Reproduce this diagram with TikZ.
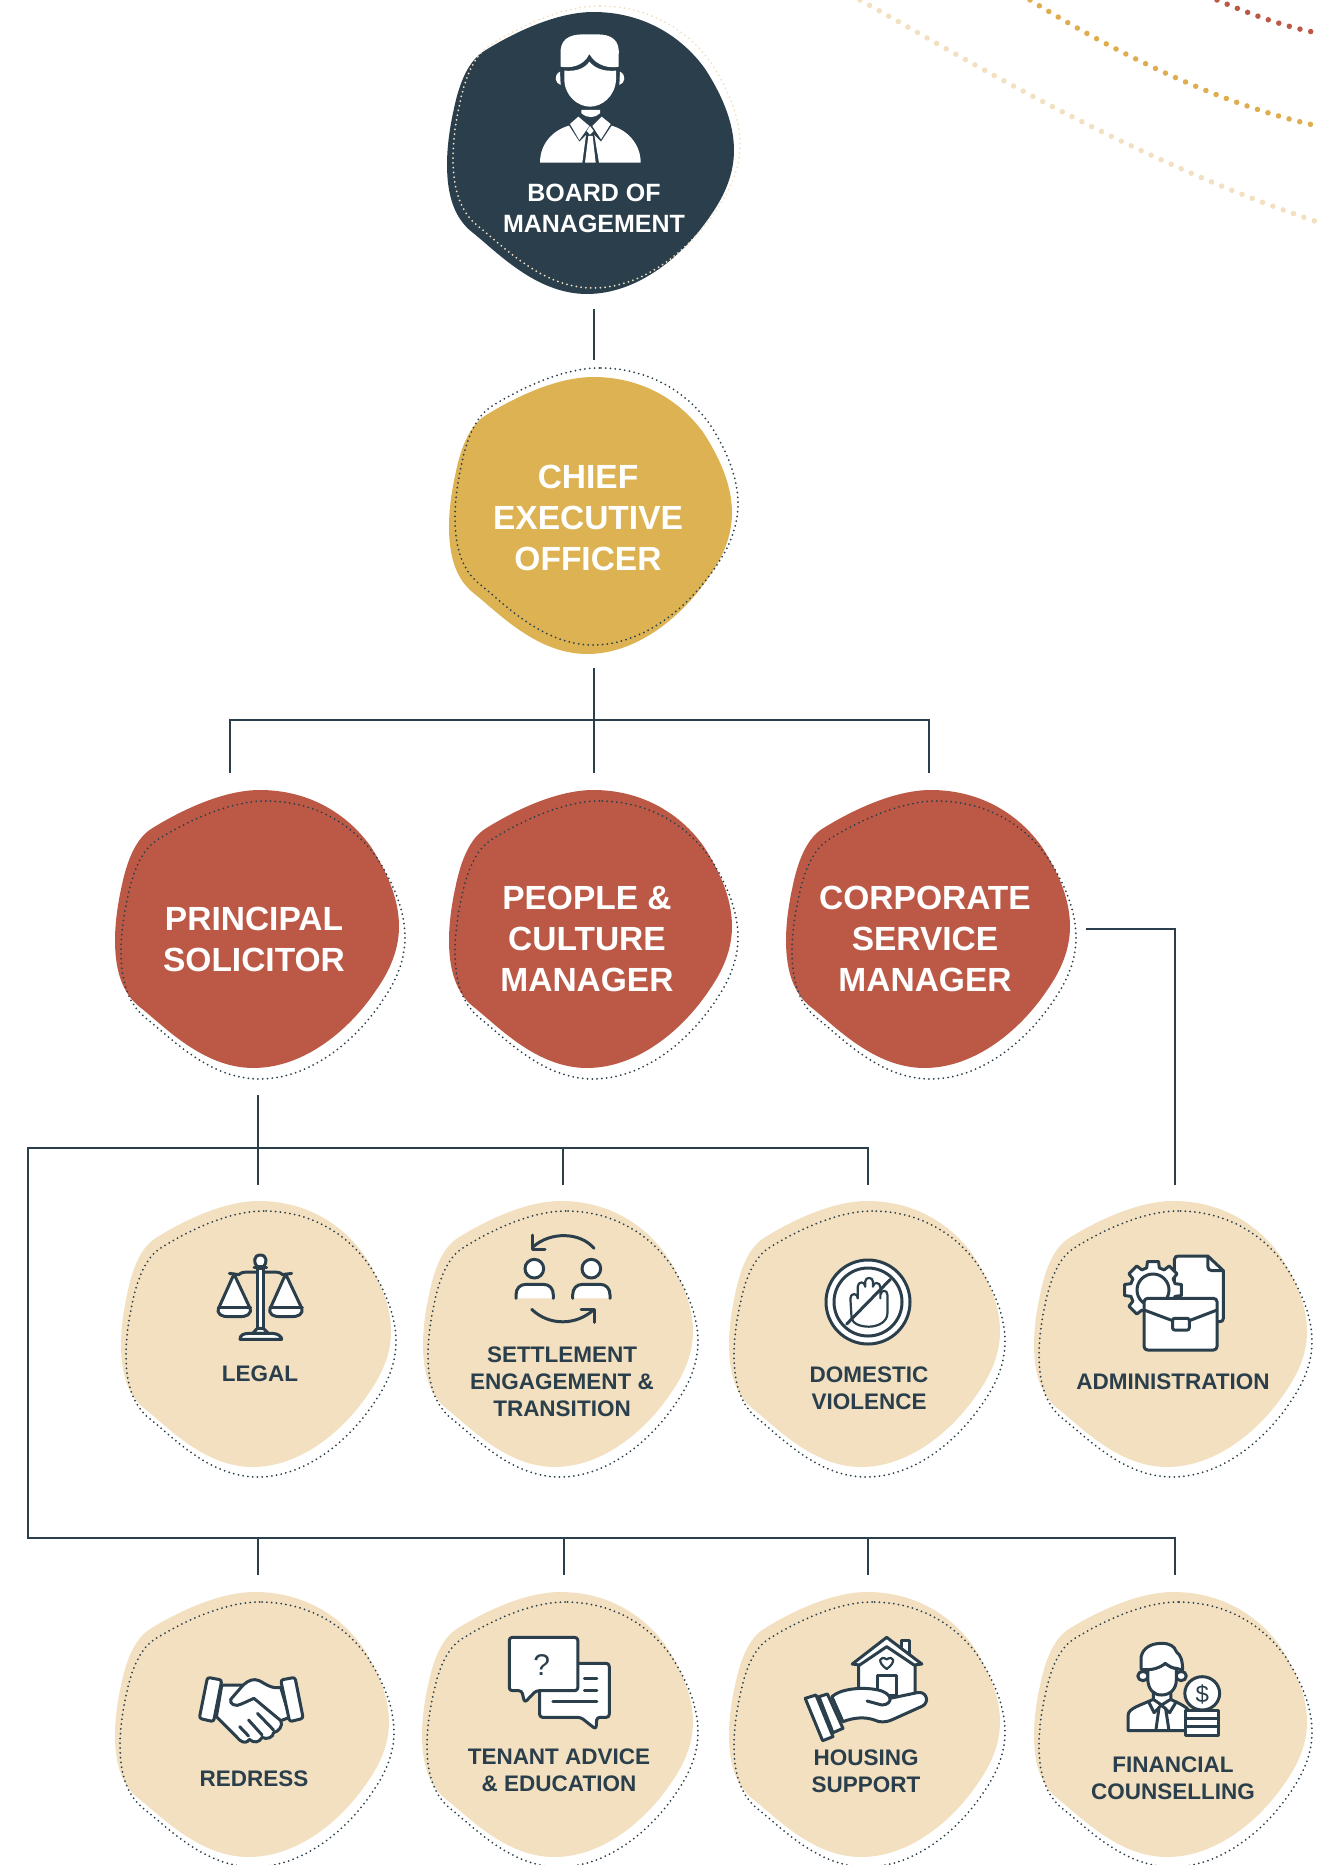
\documentclass[tikz,border=0pt]{standalone}
\usepackage{fontspec}
\setmainfont{Liberation Sans}
\definecolor{ink}{HTML}{2A3F4B}
\definecolor{gold}{HTML}{DDB253}
\definecolor{brick}{HTML}{BC5946}
\definecolor{sand}{HTML}{F2E0C0}
\definecolor{midgold}{HTML}{DFAD4D}
\def\blobpath{(423,5) .. controls (320,5) and (200,62) .. (115,115) .. controls (72,142) and (45,200) .. (28,285) .. controls (18,330) and (10,385) .. (10,435) .. controls (10,520) and (30,585) .. (80,625) .. controls (150,680) and (260,800) .. (405,800) .. controls (550,800) and (680,690) .. (755,577) .. controls (795,520) and (820,460) .. (820,395) .. controls (820,310) and (780,230) .. (739,166) .. controls (670,70) and (560,5) .. (423,5) -- cycle}
% x y w h fill dx dy dotcolour
\newcommand\Blob[8]{%
  \begin{scope}[shift={(#1,#2)},xscale=#3/810,yscale=#4/795,shift={(-10,-5)}]
    \path[fill=#5] \blobpath;
  \end{scope}
  \begin{scope}[shift={(#1+#6,#2+#7)},xscale=#3/810,yscale=#4/795,shift={(-10,-5)}]
    \draw[#8,line width=2pt,line cap=round,dash pattern=on 0pt off 4.8pt] \blobpath;
  \end{scope}}
\tikzset{
  lab/.style={font=\fontsize{22.5}{27}\selectfont\bfseries,text=ink,align=center,inner sep=0pt},
  biglab/.style={font=\fontsize{33.5}{41}\selectfont\bfseries,text=white,align=center,inner sep=0pt},
  boardlab/.style={font=\fontsize{25}{31}\selectfont\bfseries,text=white,align=center,inner sep=0pt},
  conn/.style={draw=ink,line width=2pt},
  icon/.style={draw=ink,fill=white,line width=3pt,line join=round,line cap=round},
  stroke/.style={draw=ink,line width=3pt,line join=round,line cap=round},
  arcdots/.style={line width=5.5pt,line cap=round,dash pattern=on 0pt off 11pt}
}
\begin{document}
\begin{tikzpicture}[x=1pt,y=-1pt]
\useasboundingbox (0,0) rectangle (1318,1865);
% decorative arcs
\draw[arcdots,sand] (860,0) .. controls (950,50) and (1130,160) .. (1318,222);
\draw[arcdots,midgold] (1030,0) .. controls (1110,50) and (1220,105) .. (1318,126);
\draw[arcdots,brick] (1217,0) .. controls (1250,14) and (1285,27) .. (1318,33);
% connector anchors
\coordinate (bA) at (594,309);\coordinate (bB) at (594,360);
\coordinate (cA) at (594,668);\coordinate (cJ) at (594,720);\coordinate (cB) at (594,773);
\coordinate (lJ) at (230,720);\coordinate (lE) at (230,773);
\coordinate (rJ) at (929,720);\coordinate (rE) at (929,773);
\coordinate (pA) at (258,1095);\coordinate (pJ) at (258,1147.5);\coordinate (pB) at (258,1185);
\coordinate (hL) at (28,1147.5);\coordinate (hM) at (563,1147.5);\coordinate (hME) at (563,1185);
\coordinate (hR) at (868,1147.5);\coordinate (hRE) at (868,1185);
\coordinate (vB) at (28,1537.5);
\coordinate (d1) at (258,1537.5);\coordinate (d1E) at (258,1575);
\coordinate (d2) at (564,1537.5);\coordinate (d2E) at (564,1575);
\coordinate (d3) at (868,1537.5);\coordinate (d3E) at (868,1575);
\coordinate (d4) at (1174.5,1537.5);\coordinate (d4E) at (1174.5,1575);
\coordinate (sA) at (1086,929);\coordinate (sJ) at (1174.5,929);\coordinate (sB) at (1174.5,1185);
\draw[conn] (bA) -- (bB);
\draw[conn] (cA) -- (cB);
\draw[conn] (lE) -- (lJ) -- (rJ) -- (rE);
\draw[conn] (pA) -- (pB);
\draw[conn] (hRE) -- (hR) -- (hL) -- (vB) -- (d4) -- (d4E);
\draw[conn] (hM) -- (hME);
\draw[conn] (d1) -- (d1E);
\draw[conn] (d2) -- (d2E);
\draw[conn] (d3) -- (d3E);
\draw[conn] (sA) -- (sJ) -- (sB);
% blobs
\Blob{447}{12}{287}{282}{ink}{6}{-6}{sand}
\Blob{449}{377}{283}{277}{gold}{6}{-9}{ink}
\Blob{115}{790}{284}{278}{brick}{6}{11}{ink}
\Blob{449}{790}{283}{278}{brick}{6}{11}{ink}
\Blob{786}{790}{284}{278}{brick}{6}{11}{ink}
\Blob{121}{1201}{270}{266}{sand}{5}{10}{ink}
\Blob{423}{1201}{270}{266}{sand}{5}{10}{ink}
\Blob{729}{1201}{271}{266}{sand}{5}{10}{ink}
\Blob{1034}{1201}{273}{266}{sand}{5}{10}{ink}
\Blob{115}{1592}{274}{265}{sand}{5}{10}{ink}
\Blob{422}{1592}{271}{265}{sand}{5}{10}{ink}
\Blob{729}{1592}{271}{265}{sand}{5}{10}{ink}
\Blob{1034}{1592}{273}{265}{sand}{5}{10}{ink}
% labels
\node[boardlab] (board) at (594,208) {BOARD OF\\MANAGEMENT};
\node[biglab] (ceo) at (588,518) {CHIEF\\EXECUTIVE\\OFFICER};
\node[biglab] (ps) at (254,939) {PRINCIPAL\\SOLICITOR};
\node[biglab] (pc) at (587,939) {PEOPLE \&\\CULTURE\\MANAGER};
\node[biglab] (cs) at (925,939) {CORPORATE\\SERVICE\\MANAGER};
\node[lab] (legal) at (260,1374) {LEGAL};
\node[lab] (settle) at (562,1382) {SETTLEMENT\\ENGAGEMENT \&\\TRANSITION};
\node[lab] (dv) at (869,1388) {DOMESTIC\\VIOLENCE};
\node[lab] (admin) at (1173,1382) {ADMINISTRATION};
\node[lab] (redress) at (254,1779) {REDRESS};
\node[lab] (tenant) at (559,1770) {TENANT ADVICE\\\& EDUCATION};
\node[lab] (housing) at (866,1771) {HOUSING\\SUPPORT};
\node[lab] (fin) at (1173,1778) {FINANCIAL\\COUNSELLING};
% board icon
\begin{scope}[shift={(420,0)},x=1pt/3,y=-1pt/3]
\fill[white] (422,200) -- (422,165) .. controls (418,120) and (445,103) .. (490,103) -- (530,103) .. controls (575,103) and (600,120) .. (596,165) -- (596,200) .. controls (570,205) and (530,200) .. (508,162) .. controls (490,200) and (450,205) .. (422,200) -- cycle;
\fill[white] (433,212) .. controls (470,215) and (495,205) .. (508,185) .. controls (525,205) and (550,215) .. (588,212) -- (588,240) .. controls (585,290) and (545,320) .. (510,320) .. controls (475,320) and (435,290) .. (433,240) -- cycle;
\fill[white] (420,215) .. controls (400,225) and (405,250) .. (422,255) -- cycle;
\fill[white] (600,215) .. controls (620,225) and (615,250) .. (598,255) -- cycle;
\fill[white] (484,330) -- (540,330) -- (540,340) .. controls (525,355) and (500,355) .. (484,340) -- cycle;
\fill[white] (475,350) -- (508,378) -- (478,420) -- (450,372) -- cycle;
\fill[white] (545,350) -- (572,372) -- (543,418) -- (517,378) -- cycle;
\fill[white] (360,488) .. controls (360,430) and (400,390) .. (447,377) -- (478,425) -- (498,405) -- (487,488) -- cycle;
\fill[white] (662,488) .. controls (662,430) and (620,390) .. (575,377) -- (543,425) -- (523,405) -- (537,488) -- cycle;
\fill[white] (495,488) -- (505,408) -- (518,408) -- (527,488) -- cycle;
\fill[white] (510,378) -- (500,393) -- (510,404) -- (521,393) -- cycle;
\end{scope}
% legal icon
\begin{scope}[shift={(100,1200)},x=1pt/3,y=-1pt/3]
\filldraw[icon] (358,320) -- (402,222) -- (448,320) .. controls (460,345) and (435,350) .. (420,350) -- (385,350) .. controls (370,350) and (345,345) .. (358,320) -- cycle;
\draw[stroke] (355,322) -- (452,322);
\filldraw[icon] (513,320) -- (557,222) -- (603,320) .. controls (615,345) and (590,350) .. (575,350) -- (540,350) .. controls (525,350) and (500,345) .. (513,320) -- cycle;
\draw[stroke] (510,322) -- (607,322);
\draw[stroke] (388,220) -- (416,224) .. controls (425,216) and (435,216) .. (445,216) -- (520,216) .. controls (530,216) and (540,216) .. (548,224) -- (575,220);
\filldraw[icon] (472,205) rectangle (490,385);
\filldraw[icon] (481,165) .. controls (460,165) and (460,190) .. (472,200) -- (490,200) .. controls (502,190) and (502,165) .. (481,165) -- cycle;
\draw[stroke] (462,202) -- (500,202);
\filldraw[icon] (458,400) -- (472,385) -- (490,385) -- (505,400) -- cycle;
\filldraw[icon] (420,418) .. controls (420,405) and (430,400) .. (450,400) -- (515,400) .. controls (535,400) and (545,410) .. (545,418) -- cycle;
\end{scope}
% settlement icon
\begin{scope}[shift={(420,1200)},x=1pt/3,y=-1pt/3]
\draw[stroke] (522,145) .. controls (480,95) and (390,95) .. (340,140);
\draw[stroke] (337,105) -- (337,147) -- (375,147);
\draw[stroke] (335,328) .. controls (390,380) and (470,375) .. (520,330);
\draw[stroke] (483,328) -- (522,328) -- (522,367);
\filldraw[icon] (343,206) circle[radius=28];
\filldraw[icon] (514,206) circle[radius=28];
\path[fill=white] (288,295) -- (288,285) .. controls (288,265) and (300,253) .. (318,253) -- (370,253) .. controls (388,253) and (400,265) .. (400,285) -- (400,295) -- cycle;
\draw[stroke] (288,295) -- (288,285) .. controls (288,265) and (300,253) .. (318,253) -- (370,253) .. controls (388,253) and (400,265) .. (400,285) -- (400,295);
\path[fill=white] (458,295) -- (458,285) .. controls (458,265) and (470,253) .. (488,253) -- (540,253) .. controls (558,253) and (570,265) .. (570,285) -- (570,295) -- cycle;
\draw[stroke] (458,295) -- (458,285) .. controls (458,265) and (470,253) .. (488,253) -- (540,253) .. controls (558,253) and (570,265) .. (570,285) -- (570,295);
\end{scope}
% domestic violence icon
\filldraw[icon] (868,1302) circle[radius=42];
\draw[stroke] (868,1302) circle[radius=34];
\begin{scope}[shift={(730,1200)},x=1pt/2.7,y=-1pt/3]
\filldraw[icon,line width=2.2pt] (328,350) -- (325,295) .. controls (325,278) and (345,278) .. (345,295) -- (345,260) .. controls (345,243) and (365,243) .. (365,260) -- (365,245) .. controls (365,230) and (386,230) .. (386,245) -- (386,260) .. controls (386,245) and (406,245) .. (406,262) -- (406,295) -- (406,285) .. controls (408,268) and (425,268) .. (425,285) -- (425,340) .. controls (425,365) and (400,380) .. (375,380) .. controls (350,380) and (328,370) .. (328,350) -- cycle;
\draw[stroke] (315,372) -- (433,238);
\end{scope}
% administration icon
\begin{scope}[shift={(730,1200)},x=1pt/2.7,y=-1pt/3]
\filldraw[icon] (1200,178) .. controls (1200,170) and (1205,168) .. (1212,168) -- (1290,168) -- (1332,212) -- (1332,355) .. controls (1332,362) and (1328,365) .. (1322,365) -- (1200,365) -- cycle;
\draw[stroke] (1290,170) -- (1290,200) .. controls (1290,208) and (1295,212) .. (1302,212) -- (1330,212);
\end{scope}
\begin{scope}[shift={(1153,1290)}]
\filldraw[icon] (-11:29) \foreach \a in {0,45,...,315}{ -- (\a-11:29) -- (\a+11:29) -- (\a+16:23) -- (\a+29:23)} -- cycle;
\filldraw[icon] (0,0) circle[radius=16];
\end{scope}
\begin{scope}[shift={(730,1200)},x=1pt/2.7,y=-1pt/3]
\filldraw[icon,rounded corners=3.5pt] (1118,295) rectangle (1315,450);
\draw[stroke] (1118,330) -- (1195,362);
\draw[stroke] (1315,330) -- (1240,362);
\filldraw[icon,rounded corners=2pt] (1195,355) rectangle (1240,390);
\end{scope}
% redress icon
\begin{scope}[shift={(120,1600)},x=1pt/2.8,y=-1pt/3]
\filldraw[icon] (270,350) -- (335,420) .. controls (345,430) and (358,428) .. (362,418) .. controls (375,430) and (390,428) .. (398,412) .. controls (410,420) and (430,412) .. (430,398) .. controls (445,395) and (458,375) .. (450,362) -- (475,352) -- (450,262) .. controls (425,268) and (405,250) .. (390,242) .. controls (375,235) and (360,240) .. (345,255) -- (285,255) -- cycle;
\draw[stroke] (345,255) -- (310,298) .. controls (305,312) and (325,322) .. (340,312) -- (375,295) -- (448,360);
\draw[stroke] (335,380) -- (360,408);
\draw[stroke] (360,360) -- (398,405);
\draw[stroke] (385,340) -- (430,390);
\filldraw[icon,rounded corners=2.5pt] (245,232) -- (285,240) -- (262,365) -- (222,355) -- cycle;
\filldraw[icon,rounded corners=2.5pt] (450,240) -- (490,232) -- (513,355) -- (475,365) -- cycle;
\end{scope}
% tenant icon
\begin{scope}[shift={(120,1600)},x=1pt/2.8,y=-1pt/3]
\filldraw[icon,rounded corners=3pt] (1175,190) -- (1370,190) -- (1370,352) -- (1335,352) -- (1333,388) -- (1290,352) -- (1175,352) -- cycle;
\draw[stroke] (1300,235) -- (1335,235);
\draw[stroke] (1300,270) -- (1335,270);
\draw[stroke] (1212,305) -- (1335,305);
\filldraw[icon,rounded corners=3pt] (1090,112) -- (1282,112) -- (1282,272) -- (1165,272) -- (1133,308) -- (1125,272) -- (1090,272) -- cycle;
\node[inner sep=0pt,text=ink,font=\fontsize{30}{30}\selectfont] (qmark) at (1181,195) {?};
\end{scope}
% housing icon
\begin{scope}[shift={(730,1600)},x=1pt/2.7,y=-1pt/3]
\filldraw[icon] (462,120) -- (485,120) -- (485,175) -- (462,175) -- cycle;
\filldraw[icon] (347,190) -- (347,290) -- (500,290) -- (500,190) -- (423,135) -- cycle;
\filldraw[icon] (330,192) -- (423,112) -- (518,192) -- (497,195) -- (423,140) -- (350,195) -- cycle;
\filldraw[icon,line width=2.2pt] (423,207) .. controls (395,185) and (405,165) .. (423,178) .. controls (441,165) and (451,185) .. (423,207) -- cycle;
\filldraw[icon] (397,285) -- (397,225) -- (450,225) -- (450,285) -- cycle;
\filldraw[icon] (275,290) .. controls (300,265) and (360,260) .. (400,270) .. controls (420,275) and (430,285) .. (432,295) -- (505,278) .. controls (530,272) and (540,305) .. (520,318) -- (440,358) .. controls (420,368) and (405,368) .. (390,360) .. controls (365,350) and (335,352) .. (305,365) -- cycle;
\draw[stroke] (370,303) -- (410,315) .. controls (425,315) and (435,305) .. (432,292);
\filldraw[icon] (240,290) -- (263,282) -- (305,385) -- (278,398) -- cycle;
\filldraw[icon] (203,295) -- (232,285) -- (278,410) -- (250,422) -- cycle;
\end{scope}
% financial icon
\begin{scope}[shift={(730,1600)},x=1pt/2.7,y=-1pt/3]
\filldraw[icon] (1075,392) -- (1075,345) .. controls (1075,325) and (1110,315) .. (1143,298) -- (1190,298) .. controls (1210,310) and (1240,320) .. (1245,345) -- (1245,392) -- cycle;
\filldraw[icon] (1115,228) ellipse[x radius=14,y radius=14];
\filldraw[icon] (1218,228) ellipse[x radius=14,y radius=14];
\filldraw[icon] (1143,275) -- (1143,298) -- (1165,315) -- (1190,298) -- (1190,275) -- cycle;
\filldraw[icon] (1128,208) -- (1128,240) .. controls (1130,270) and (1145,285) .. (1165,285) .. controls (1190,285) and (1205,265) .. (1205,240) -- (1205,205) .. controls (1195,205) and (1185,198) .. (1175,190) .. controls (1160,200) and (1145,208) .. (1128,208) -- cycle;
\filldraw[icon] (1110,208) -- (1110,170) .. controls (1115,145) and (1135,130) .. (1165,130) .. controls (1190,130) and (1200,140) .. (1205,155) .. controls (1218,165) and (1222,185) .. (1222,210) -- (1205,205) .. controls (1195,205) and (1185,198) .. (1175,190) .. controls (1160,205) and (1135,212) .. (1110,208) -- cycle;
\draw[stroke] (1130,305) -- (1145,338) -- (1165,315) -- (1187,338) -- (1205,305);
\draw[stroke] (1158,325) -- (1150,390);
\draw[stroke] (1176,325) -- (1185,390);
\filldraw[icon] (1275,280) ellipse[x radius=47,y radius=50];
\node[inner sep=0pt,text=ink,font=\fontsize{24}{24}\selectfont] (dollar) at (1275,283) {\$};
\filldraw[icon] (1230,332) rectangle (1320,355);
\filldraw[icon] (1230,355) rectangle (1320,380);
\filldraw[icon] (1230,380) rectangle (1320,405);
\end{scope}
\end{tikzpicture}
\end{document}
